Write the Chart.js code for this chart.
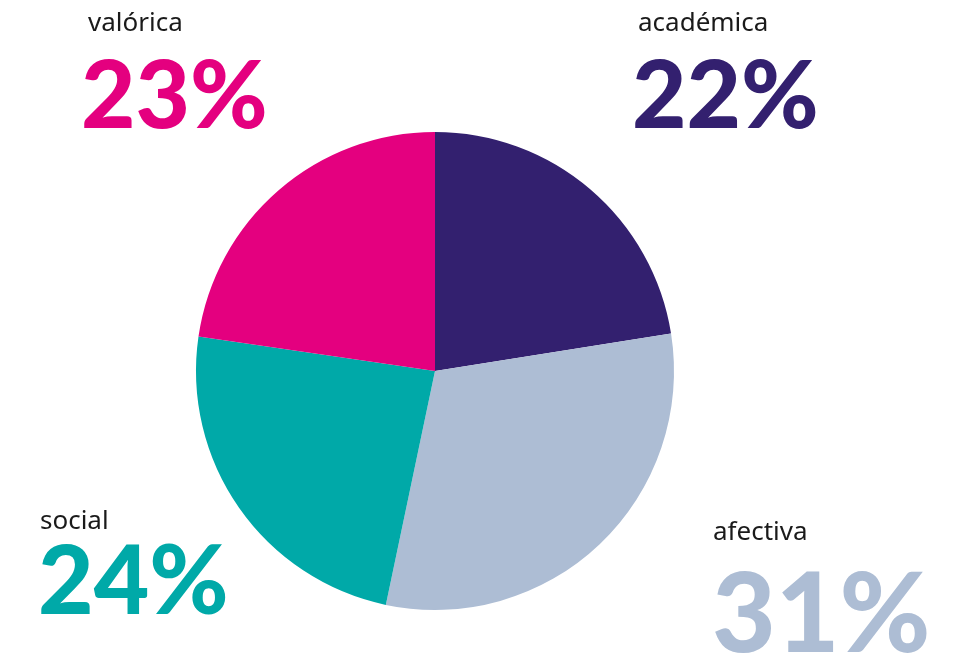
<!DOCTYPE html>
<html>
<head>
<meta charset="utf-8">
<script src="https://cdn.jsdelivr.net/npm/chart.js@4"></script>
<style>
html,body{margin:0;padding:0;background:#fff;}
#wrap{width:960px;height:658px;position:relative;}
</style>
</head>
<body>
<div id="wrap"><canvas id="c" width="960" height="658"></canvas></div>
<script>
const categories = ["académica", "afectiva", "social", "valórica"];
const values = [22.5, 30.8, 24, 22.7];
const percentLabels = ["22%", "31%", "24%", "23%"];
const colors = ["#33206f", "#adbdd4", "#00a9a8", "#e4007f"];

// label placement (text positions, not marks)
const labelPos = [
  {nameX: 638, nameY: 31, pctX: 632, pctY: 128, size: 94},
  {nameX: 713, nameY: 540, pctX: 712, pctY: 652, size: 110},
  {nameX: 40, nameY: 529, pctX: 38, pctY: 614, size: 96},
  {nameX: 88, nameY: 31, pctX: 81, pctY: 128, size: 94}
];

const labelPlugin = {
  id: 'cornerLabels',
  afterDraw(chart) {
    const ctx = chart.ctx;
    ctx.save();
    ctx.textAlign = 'left';
    ctx.textBaseline = 'alphabetic';
    categories.forEach((cat, i) => {
      const p = labelPos[i];
      ctx.fillStyle = '#1a1a1a';
      ctx.font = '400 26px "Noto Sans", "Open Sans", sans-serif';
      ctx.fillText(cat, p.nameX, p.nameY);
      ctx.fillStyle = colors[i];
      ctx.font = '900 ' + p.size + 'px Lato, "DejaVu Sans", sans-serif';
      ctx.fillText(percentLabels[i], p.pctX, p.pctY);
    });
    ctx.restore();
  }
};

new Chart(document.getElementById('c'), {
  type: 'pie',
  data: {
    labels: categories,
    datasets: [{
      data: values,
      backgroundColor: colors,
      borderWidth: 0
    }]
  },
  options: {
    responsive: false,
    animation: false,
    layout: {padding: {top: 132, bottom: 48, left: 0, right: 90}},
    plugins: {legend: {display: false}, tooltip: {enabled: false}}
  },
  plugins: [labelPlugin]
});
</script>
</body>
</html>
